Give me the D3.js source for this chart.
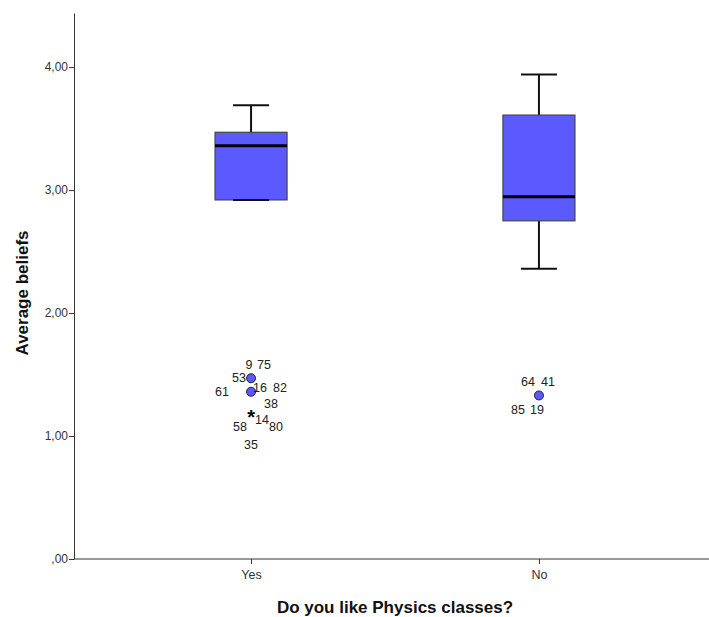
<!DOCTYPE html>
<html>
<head>
<meta charset="utf-8">
<script src="https://cdn.jsdelivr.net/npm/d3@7"></script>
<style>
  body { margin: 0; background: #fff; }
  text { font-family: "Liberation Sans", Arial, sans-serif; }
</style>
</head>
<body>
<div id="container"></div>
<script>
// groups on the x axis
var groups = ["Yes", "No"];

// five number summaries
var whiskerLow  = [2.92, 2.36];
var q1          = [2.92, 2.75];
var medians     = [3.36, 2.945];
var q3          = [3.47, 3.61];
var whiskerHigh = [3.69, 3.94];

// outliers (circles) and extremes (stars)
var outlierGroup = ["Yes", "Yes", "No"];
var outlierValue = [1.47, 1.36, 1.33];
var extremeGroup = ["Yes"];
var extremeValue = [1.17];

// case labels next to the outlier points
var caseLabels = ["9", "75", "53", "16", "82", "61", "38", "14", "80", "58", "35", "64", "41", "85", "19"];
var caseGroup  = ["Yes", "Yes", "Yes", "Yes", "Yes", "Yes", "Yes", "Yes", "Yes", "Yes", "Yes", "No", "No", "No", "No"];
var caseValue  = [1.47, 1.47, 1.47, 1.36, 1.36, 1.36, 1.36, 1.17, 1.17, 1.17, 1.17, 1.33, 1.33, 1.33, 1.33];

var yTicks = [0, 1, 2, 3, 4];

// where each label sits relative to its point (px)
var labelOffset = [
  [-2, -13], [13, -13], [-12, 0],
  [9, -4], [29, -4], [-29, 0], [20, 12],
  [11, 5], [25, 12], [-11, 12], [0, 30],
  [-11, -13], [9, -13], [-21, 15], [-2, 15]
];

var width = 709, height = 617;
var svg = d3.select("#container").append("svg")
  .attr("width", width)
  .attr("height", height);

var plotLeft = 74, plotBottom = 559, plotTop = 13;

var x = d3.scalePoint()
  .domain(groups)
  .range([plotLeft, 716])
  .padding(0.615);

var y = d3.scaleLinear()
  .domain([0, 4.44])
  .range([plotBottom, plotTop]);

var boxW = 72;
var blue = "#5a5aff";

// boxes
groups.forEach(function (g, i) {
  var cx = x(g);
  var gg = svg.append("g");
  // whiskers
  gg.append("line")
    .attr("x1", cx).attr("x2", cx)
    .attr("y1", y(q3[i])).attr("y2", y(whiskerHigh[i]))
    .attr("stroke", "#111").attr("stroke-width", 2);
  gg.append("line")
    .attr("x1", cx).attr("x2", cx)
    .attr("y1", y(q1[i])).attr("y2", y(whiskerLow[i]))
    .attr("stroke", "#111").attr("stroke-width", 2);
  gg.append("rect")
    .attr("x", cx - boxW / 2)
    .attr("y", y(q3[i]))
    .attr("width", boxW)
    .attr("height", y(q1[i]) - y(q3[i]))
    .attr("fill", blue)
    .attr("stroke", "#444")
    .attr("stroke-width", 1.2);
  [whiskerHigh[i], whiskerLow[i]].forEach(function (v) {
    gg.append("line")
      .attr("x1", cx - boxW / 4).attr("x2", cx + boxW / 4)
      .attr("y1", y(v)).attr("y2", y(v))
      .attr("stroke", "#111").attr("stroke-width", 2);
  });
  gg.append("line")
    .attr("x1", cx - boxW / 2).attr("x2", cx + boxW / 2)
    .attr("y1", y(medians[i])).attr("y2", y(medians[i]))
    .attr("stroke", "#000").attr("stroke-width", 3);
});

// outliers
svg.selectAll("circle.out")
  .data(outlierValue)
  .enter()
  .append("circle")
  .attr("class", "out")
  .attr("cx", function (d, i) { return x(outlierGroup[i]); })
  .attr("cy", function (d) { return y(d); })
  .attr("r", 4.5)
  .attr("fill", blue)
  .attr("stroke", "#222")
  .attr("stroke-width", 1);

svg.selectAll("text.ext")
  .data(extremeValue)
  .enter()
  .append("text")
  .attr("class", "ext")
  .attr("x", function (d, i) { return x(extremeGroup[i]); })
  .attr("y", function (d) { return y(d) + 9; })
  .attr("text-anchor", "middle")
  .style("font-size", "20px")
  .style("font-weight", "bold")
  .text("*");

svg.selectAll("text.case")
  .data(caseLabels)
  .enter()
  .append("text")
  .attr("class", "case")
  .attr("x", function (d, i) { return x(caseGroup[i]) + labelOffset[i][0]; })
  .attr("y", function (d, i) { return y(caseValue[i]) + labelOffset[i][1]; })
  .attr("text-anchor", "middle")
  .attr("dominant-baseline", "central")
  .style("font-size", "12.5px")
  .style("fill", "#222")
  .text(function (d) { return d; });

// axes
var yAxis = svg.append("g")
  .attr("transform", "translate(" + plotLeft + ",0)")
  .call(d3.axisLeft(y).tickValues(yTicks).tickSize(5).tickSizeOuter(0)
    .tickFormat(function (d) { return d === 0 ? ",00" : d3.format(".2f")(d).replace(".", ","); }));
yAxis.select(".domain").attr("stroke", "#333");
yAxis.selectAll(".tick line").attr("stroke", "#333");
yAxis.selectAll(".tick text").style("font-size", "12px").style("fill", "#333")
  .style("font-family", "Liberation Sans, Arial, sans-serif").attr("x", -6);

var xAxis = svg.append("g")
  .attr("transform", "translate(0," + plotBottom + ")")
  .call(d3.axisBottom(x).tickSize(5).tickSizeOuter(0));
xAxis.select(".domain").attr("d", "M" + plotLeft + ",0H" + width).attr("stroke", "#333");
xAxis.selectAll(".tick line").attr("stroke", "#333");
xAxis.selectAll(".tick text").style("font-size", "12.5px").style("fill", "#333")
  .style("font-family", "Liberation Sans, Arial, sans-serif").attr("y", 11);

// titles
svg.append("text")
  .attr("transform", "translate(28,293) rotate(-90)")
  .attr("text-anchor", "middle")
  .style("font-size", "17px")
  .style("font-weight", "bold")
  .style("fill", "#111")
  .text("Average beliefs");

svg.append("text")
  .attr("x", 395)
  .attr("y", 613)
  .attr("text-anchor", "middle")
  .style("font-size", "17px")
  .style("font-weight", "bold")
  .style("fill", "#111")
  .text("Do you like Physics classes?");
</script>
</body>
</html>
